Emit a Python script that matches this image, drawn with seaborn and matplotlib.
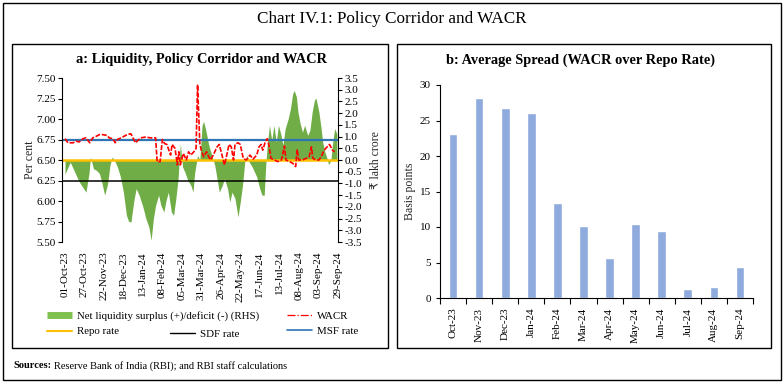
import numpy as np
import pandas as pd
import matplotlib
matplotlib.use("Agg")
import matplotlib.pyplot as plt
import matplotlib.dates as mdates
from matplotlib.patches import Rectangle
from matplotlib.lines import Line2D
import seaborn as sns

# ---- data ----
start = pd.Timestamp("2023-10-01")

# net liquidity, days after 01-Oct-23, lakh crore (RHS)
liq_day = [0, 7, 12, 18, 22, 28, 32, 34, 38, 42,
           46, 49, 53, 57, 60, 63, 66, 70, 74, 78,
           82, 85, 88, 92, 95, 99, 104, 108, 112, 115,
           118, 121, 125, 128, 132, 135, 138, 142, 145, 148,
           151, 154, 157, 160, 164, 168, 171, 173, 177, 180,
           183, 185, 188, 192, 196, 200, 203, 206, 210, 213,
           217, 220, 223, 227, 231, 234, 237, 240, 243, 246,
           250, 253, 256, 260, 263, 266, 268, 270, 273, 276,
           279, 282, 285, 288, 291, 294, 298, 301, 304, 306,
           309, 311, 314, 317, 320, 324, 327, 330, 333, 335,
           339, 342, 344, 347, 350, 352, 355, 357, 360, 363]
liq_val = [-0.60, -0.09, -0.44, -0.87, -1.08, -1.37, -0.58, 0.13, -0.37, -0.44,
           -0.58, -0.94, -1.50, -1.00, -0.23, 0.13, -0.01, -0.30, -0.72, -1.37,
           -2.36, -2.62, -2.65, -1.72, -1.22, -1.50, -2.00, -2.50, -2.86, -3.43,
           -2.50, -1.93, -1.50, -1.93, -2.22, -1.72, -1.37, -2.22, -2.36, -1.65,
           -0.80, 0.70, -0.30, -0.51, -0.87, -1.08, -1.37, -0.58, 0.20, 0.00,
           1.48, 1.65, 1.27, 0.63, 0.20, -0.23, -0.80, -1.37, -1.08, -0.80,
           -1.22, -1.79, -1.37, -1.65, -2.43, -1.79, -1.08, -0.09, 0.20, -0.09,
           -0.30, -0.51, -0.72, -1.22, -1.50, -1.50, -0.23, 0.63, 1.48, 0.84,
           1.48, 0.77, 1.48, 1.12, 0.63, 1.34, 1.76, 2.19, 2.83, 2.97,
           2.69, 2.05, 1.55, 1.19, 1.48, 1.05, 1.27, 2.05, 2.55, 2.65,
           2.05, 1.34, 0.77, 0.34, 0.06, -0.20, -0.01, 0.63, 1.34, 1.12]

# WACR, per cent (LHS)
wacr_day = [0, 4, 11, 15, 19, 24, 28, 33, 37, 42,
            46, 50, 56, 59, 64, 67, 70, 75, 79, 83,
            88, 94, 101, 108, 114, 121, 123, 127, 130, 133,
            136, 141, 143, 147, 150, 152, 154, 158, 162, 165,
            168, 172, 175, 177, 180, 182, 185, 189, 194, 198,
            203, 206, 209, 213, 216, 219, 222, 225, 227, 231,
            234, 238, 242, 247, 251, 256, 259, 262, 264, 267,
            270, 272, 275, 280, 284, 289, 293, 295, 300, 304,
            308, 310, 312, 317, 322, 326, 329, 331, 335, 339,
            342, 346, 350, 353, 355, 357, 360]
wacr_val = [6.76, 6.71, 6.71, 6.73, 6.72, 6.76, 6.77, 6.71, 6.77, 6.79,
            6.81, 6.81, 6.80, 6.77, 6.76, 6.71, 6.75, 6.77, 6.79, 6.81,
            6.82, 6.71, 6.77, 6.78, 6.77, 6.77, 6.48, 6.48, 6.75, 6.70,
            6.69, 6.56, 6.69, 6.64, 6.44, 6.60, 6.44, 6.58, 6.50, 6.60,
            6.56, 6.60, 6.64, 7.42, 6.70, 6.62, 6.54, 6.60, 6.50, 6.56,
            6.66, 6.69, 6.58, 6.44, 6.56, 6.69, 6.66, 6.50, 6.69, 6.71,
            6.69, 6.52, 6.50, 6.56, 6.51, 6.56, 6.66, 6.69, 6.62, 6.71,
            6.76, 6.69, 6.52, 6.50, 6.48, 6.50, 6.67, 6.50, 6.48, 6.46,
            6.42, 6.63, 6.50, 6.50, 6.52, 6.54, 6.66, 6.52, 6.50, 6.50,
            6.54, 6.62, 6.66, 6.69, 6.66, 6.62, 6.60]

repo_rate = 6.50
sdf_rate = 6.25
msf_rate = 6.75

months = ["Oct-23", "Nov-23", "Dec-23", "Jan-24", "Feb-24", "Mar-24",
          "Apr-24", "May-24", "Jun-24", "Jul-24", "Aug-24", "Sep-24"]
spread = [23.1, 28.2, 26.7, 26.1, 13.4, 10.2, 5.7, 10.4, 9.5, 1.3, 1.6, 4.3]

liq_dates = start + pd.to_timedelta(liq_day, unit="D")
wacr_dates = start + pd.to_timedelta(wacr_day, unit="D")
tick_dates = pd.date_range(start, periods=15, freq="26D")

# ---- style ----
sns.set_style("ticks")
plt.rcParams['font.family'] = ['Liberation Serif', 'DejaVu Sans']
plt.rcParams['axes.edgecolor'] = 'black'
plt.rcParams['xtick.color'] = 'black'
plt.rcParams['ytick.color'] = 'black'
plt.rcParams['text.color'] = 'black'

GREEN = '#70ad47'
RED = '#ff0000'
ORANGE = '#ffc000'
BLUE = '#2e75b6'
BAR = '#8faadc'
TICK_FS = 8

W, H = 784, 383
fig = plt.figure(figsize=(W / 100, H / 100), dpi=100)


def fx(px):
    return px / W


def fy(py):
    return 1 - py / H


# frames
fig.patches.append(Rectangle((fx(3), fy(380)), fx(778), 377 / H, fill=False,
                             lw=1.0, ec='black', transform=fig.transFigure))
fig.patches.append(Rectangle((fx(12), fy(348)), fx(376), 304 / H, fill=False,
                             lw=1.0, ec='black', transform=fig.transFigure))
fig.patches.append(Rectangle((fx(397), fy(348)), fx(374), 304 / H, fill=False,
                             lw=1.0, ec='black', transform=fig.transFigure))

fig.text(fx(392), fy(19), "Chart IV.1: Policy Corridor and WACR",
         ha='center', va='center', fontsize=12.3)
fig.text(fx(201), fy(60), "a: Liquidity, Policy Corridor and WACR",
         ha='center', va='center', fontsize=10.4, fontweight='bold')
fig.text(fx(581), fy(60), "b: Average Spread (WACR over Repo Rate)",
         ha='center', va='center', fontsize=10.4, fontweight='bold')

# ---- panel a ----
ax = fig.add_axes([fx(62), fy(242), fx(276), 164 / H])
ax2 = ax.twinx()
ax.set_zorder(ax2.get_zorder() + 1)
ax.patch.set_visible(False)

ax2.fill_between(liq_dates, 0, liq_val, color=GREEN, lw=0, interpolate=True)
ax2.set_ylim(-3.5, 3.5)
ax2.set_yticks(np.arange(-3.5, 3.51, 0.5))
ax2.yaxis.set_major_formatter(matplotlib.ticker.FormatStrFormatter('%.1f'))
ax2.set_ylabel("₹ lakh crore", fontsize=8.5, labelpad=6)

ax.axhline(msf_rate, color=BLUE, lw=1.6)
ax.axhline(repo_rate, color=ORANGE, lw=1.8)
ax.axhline(sdf_rate, color='black', lw=1.1)
sns.lineplot(x=wacr_dates, y=wacr_val, ax=ax, color=RED, lw=1.2,
             linestyle=(0, (3, 1)))
ax.set_ylim(5.5, 7.5)
ax.set_yticks(np.arange(5.5, 7.51, 0.25))
ax.yaxis.set_major_formatter(matplotlib.ticker.FormatStrFormatter('%.2f'))
ax.set_ylabel("Per cent", fontsize=8.5, labelpad=0.5)
ax.set_xlabel("")

ax.set_xlim(start - pd.Timedelta(days=4), start + pd.Timedelta(days=364.5))
ax.set_xticks(tick_dates)
ax.xaxis.set_major_formatter(mdates.DateFormatter('%d-%b-%y'))
ax.tick_params(axis='x', length=0, pad=7, labelsize=TICK_FS, labelrotation=90)
ax.tick_params(axis='y', length=3, width=0.8, pad=1.5, labelsize=TICK_FS,
               direction='out')
ax2.tick_params(axis='y', length=3, width=0.8, pad=1.5, labelsize=TICK_FS,
                direction='out')

for a in (ax, ax2):
    a.spines['top'].set_visible(False)
    a.spines['bottom'].set_visible(False)
    a.spines['left'].set_linewidth(0.8)
    a.spines['right'].set_linewidth(0.8)
ax.spines['right'].set_visible(False)
ax2.spines['left'].set_visible(False)

# legend for panel a
leg_kw = dict(frameon=False, fontsize=7.8, handlelength=2.3, handletextpad=0.45,
              labelspacing=0.55, borderpad=0, borderaxespad=0, loc='upper left')
h_liq = Line2D([], [], color='#7fc04f', lw=5, solid_capstyle='butt')
h_repo = Line2D([], [], color=ORANGE, lw=1.5)
h_sdf = Line2D([], [], color='black', lw=1.0)
h_wacr = Line2D([], [], color=RED, lw=0.9, linestyle='-.')
h_msf = Line2D([], [], color=BLUE, lw=1.2)
fig.legend([h_liq, h_repo], ["Net liquidity surplus (+)/deficit (-) (RHS)", "Repo rate"],
           bbox_to_anchor=(fx(47), fy(311)), **leg_kw)
fig.legend([h_sdf], ["SDF rate"], bbox_to_anchor=(fx(170), fy(329)), **leg_kw)
fig.legend([h_wacr, h_msf], ["WACR", "MSF rate"],
           bbox_to_anchor=(fx(287), fy(311)), **leg_kw)

# ---- panel b ----
axb = fig.add_axes([fx(440), fy(298), fx(313), 213 / H])
sns.barplot(x=months, y=spread, color=BAR, saturation=1, width=0.33,
            errorbar=None, ax=axb)
axb.set_xlim(-0.5, len(months) - 0.5)
axb.set_ylim(0, 30)
axb.set_yticks(np.arange(0, 31, 5))
axb.set_xticks(np.arange(-0.5, len(months), 1), minor=True)
axb.tick_params(axis='x', which='major', length=0, pad=7, labelsize=TICK_FS,
                labelrotation=90)
axb.tick_params(axis='x', which='minor', length=4, width=0.8, direction='out')
axb.tick_params(axis='y', length=3, width=0.8, labelsize=TICK_FS, direction='out')
axb.set_ylabel("Basis points", fontsize=8.5, labelpad=2.5)
axb.set_xlabel("")
sns.despine(ax=axb)
axb.spines['left'].set_linewidth(0.8)
axb.spines['bottom'].set_linewidth(0.8)

# ---- sources ----
t1 = fig.text(fx(13), fy(366), "Sources:", fontsize=7.5, fontweight='bold',
              va='center', ha='left')
fig.canvas.draw()
bb = t1.get_window_extent(fig.canvas.get_renderer())
fig.text((bb.x1 + 3) / W, fy(366), "Reserve Bank of India (RBI); and RBI staff calculations",
         fontsize=7.5, va='center', ha='left')

fig.savefig("out.png", dpi=100)
